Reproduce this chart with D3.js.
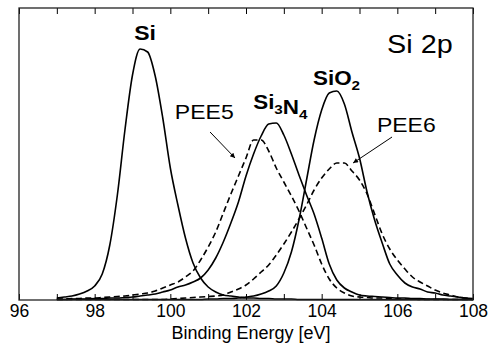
<!DOCTYPE html>
<html>
<head>
<meta charset="utf-8">
<script src="https://cdn.jsdelivr.net/npm/d3@7"></script>
<style>
  html, body { margin: 0; padding: 0; background: #fff; }
  svg { display: block; font-family: "Liberation Sans", Arial, Helvetica, sans-serif; }
</style>
</head>
<body>
<div id="chart"></div>
<script>
(function() {
  'use strict';

  // binding energy grid (eV)
  var energy = [97.0, 97.2, 97.4, 97.6, 97.8, 98.0, 98.2, 98.4, 98.6, 98.8,
                99.0, 99.2, 99.4, 99.6, 99.8, 100.0, 100.2, 100.4, 100.6, 100.8,
                101.0, 101.2, 101.4, 101.6, 101.8, 102.0, 102.2, 102.4, 102.6, 102.8,
                103.0, 103.2, 103.4, 103.6, 103.8, 104.0, 104.2, 104.4, 104.6, 104.8,
                105.0, 105.2, 105.4, 105.6, 105.8, 106.0, 106.2, 106.4, 106.6, 106.8,
                107.0, 107.2, 107.4, 107.6, 107.8, 108.0];

  // intensities (arb. units)
  var si = [2, 3, 4, 6, 9, 14, 26, 55, 105, 170,
            225, 251, 248, 224, 182, 132, 95, 62, 37, 22,
            13, 8, 5, 4, 3, 2, 2, 1.5, 1.5, 1,
            1, 1, 0.5, 0.5, 0.5, 0.5, 0.5, 0.5, 0.5, 0.5,
            0.5, 0.5, 0.5, 0.5, 0.5, 0.5, 0.5, 0.5, 0.5, 0.5,
            0.5, 0.5, 0.5, 0.5, 0.5, 0.5];

  var si3n4 = [0.5, 0.5, 1, 1, 1, 1.5, 1.5, 2, 2, 2.5,
               3, 4, 5, 6, 8, 10, 13, 15, 18, 22,
               30, 42, 58, 77, 98, 124, 146, 164, 176, 177,
               165, 146, 125, 105, 86, 62, 36, 20, 12, 8,
               5, 4, 3.5, 3, 2.5, 2, 2, 1.5, 1.5, 1,
               1, 1, 0.5, 0.5, 0.5, 0.5];

  var pee5 = [1, 1, 1.5, 1.5, 2, 2, 2.5, 3, 3.5, 4,
              5, 6, 7, 9, 12, 15, 18, 23, 29, 40,
              53, 68, 87, 106, 124, 142, 160, 160, 149, 132,
              118, 104, 89, 72, 55, 36, 21, 12, 7, 4,
              3, 2.5, 2, 2, 1.5, 1, 1, 1, 0.5, 0.5,
              0.5, 0.5, 0.5, 0.5, 0.5, 0.5];

  var sio2 = [0.5, 0.5, 0.5, 0.5, 0.5, 0.5, 0.5, 0.5, 0.5, 0.5,
              0.5, 0.5, 0.5, 0.5, 0.5, 0.5, 0.5, 0.5, 0.5, 0.5,
              1, 1, 1.5, 1.5, 2, 3, 4, 6, 9, 14,
              27, 48, 80, 120, 160, 190, 207, 209, 196, 168,
              142, 108, 80, 57, 36, 25, 17, 13, 11, 8,
              7, 5, 4, 3, 2, 1.5];

  var pee6 = [0.5, 0.5, 0.5, 0.5, 0.5, 0.5, 0.5, 0.5, 0.5, 0.5,
              0.5, 0.5, 0.5, 0.5, 0.5, 1, 1.5, 2, 2.5, 3,
              3.5, 4, 5, 8, 11, 15, 21, 28, 35, 45,
              56, 68, 81, 95, 110, 122, 131, 137, 137, 129,
              120, 106, 86, 66, 51, 40, 31, 23, 18, 14,
              10, 7, 5, 3, 2, 1];

  var xTicks = [96, 97, 98, 99, 100, 101, 102, 103, 104, 105, 106, 107, 108];
  var xTickLabels = [96, 98, 100, 102, 104, 106, 108];

  var options = {
    width: 491,
    height: 346,
    margin: { left: 19, right: 18, top: 8, bottom: 46 },
    xDomain: [96, 108],
    yDomain: [0, 292]
  };

  var w = options.width, h = options.height, m = options.margin;

  var svg = d3.select('#chart')
    .append('svg')
    .attr('width', w)
    .attr('height', h);

  var x = d3.scaleLinear().domain(options.xDomain).range([m.left, w - m.right]);
  var y = d3.scaleLinear().domain(options.yDomain).range([h - m.bottom, m.top]);

  var series = [
    { name: 'Si', values: si, dash: null },
    { name: 'Si3N4', values: si3n4, dash: null },
    { name: 'PEE5', values: pee5, dash: '6,3.5' },
    { name: 'SiO2', values: sio2, dash: null },
    { name: 'PEE6', values: pee6, dash: '6,3.5' }
  ];

  var line = d3.line()
    .x(function(d) { return x(d[0]); })
    .y(function(d) { return y(d[1]); })
    .curve(d3.curveMonotoneX);

  svg.append('g')
    .selectAll('path')
    .data(series)
    .enter().append('path')
    .attr('d', function(s) { return line(energy.map(function(e, i) { return [e, s.values[i]]; })); })
    .attr('fill', 'none')
    .attr('stroke', '#000')
    .attr('stroke-width', 1.6)
    .attr('stroke-dasharray', function(s) { return s.dash; });

  // axes: inward ticks top and bottom
  var bottom = d3.axisBottom(x)
    .tickValues(xTicks)
    .tickSizeInner(-6)
    .tickSizeOuter(0)
    .tickPadding(5)
    .tickFormat(function(d) { return xTickLabels.indexOf(d) >= 0 ? d : ''; });

  var gx = svg.append('g')
    .attr('transform', 'translate(0,' + (h - m.bottom) + ')')
    .call(bottom);
  gx.select('.domain').remove();
  gx.selectAll('line').attr('stroke', '#000').attr('stroke-width', 1);
  gx.selectAll('text')
    .attr('fill', '#000')
    .style('font-size', '17.5px')
    .style('font-family', '"Liberation Sans", Arial, sans-serif');

  var gt = svg.append('g')
    .attr('transform', 'translate(0,' + m.top + ')')
    .call(d3.axisTop(x).tickValues(xTicks).tickSizeInner(-6).tickSizeOuter(0).tickFormat(''));
  gt.select('.domain').remove();
  gt.selectAll('line').attr('stroke', '#000').attr('stroke-width', 1);

  // frame
  svg.append('rect')
    .attr('x', x(options.xDomain[0]))
    .attr('y', y(options.yDomain[1]))
    .attr('width', x(options.xDomain[1]) - x(options.xDomain[0]))
    .attr('height', y(options.yDomain[0]) - y(options.yDomain[1]))
    .attr('fill', 'none')
    .attr('stroke', '#222')
    .attr('stroke-width', 1.3);

  // axis title
  svg.append('text')
    .attr('x', 251)
    .attr('y', 339)
    .attr('text-anchor', 'middle')
    .style('font-size', '18px')
    .text('Binding Energy [eV]');

  // labels, placed in data units
  function label(e, v, parts, size, weight, anchor) {
    var t = svg.append('text')
      .attr('transform', 'translate(' + x(e) + ',' + y(v) + ') scale(1.15,1)')
      .attr('text-anchor', anchor || 'start')
      .style('font-size', size + 'px')
      .style('font-weight', weight || 'normal');
    parts.forEach(function(p) {
      if (p.sub) {
        t.append('tspan').attr('dy', 5).style('font-size', (size * 0.68) + 'px').text(p.sub);
        t.append('tspan').attr('dy', -5).text('');
      } else {
        t.append('tspan').text(p.text);
      }
    });
    return t;
  }

  label(99.33, 260, [{ text: 'Si' }], 20, 'bold', 'middle');
  label(102.19, 191, [{ text: 'Si' }, { sub: '3' }, { text: 'N' }, { sub: '4' }], 19.5, 'bold');
  label(103.77, 215, [{ text: 'SiO' }, { sub: '2' }], 19.5, 'bold');
  label(105.73, 247, [{ text: 'Si 2p' }], 25, 'normal');
  label(100.12, 181, [{ text: 'PEE5' }], 20, 'normal');
  label(105.46, 168, [{ text: 'PEE6' }], 20, 'normal');

  // arrows
  var defs = svg.append('defs');
  defs.append('marker')
    .attr('id', 'arrow')
    .attr('viewBox', '0 0 10 10')
    .attr('refX', 10)
    .attr('refY', 5)
    .attr('markerWidth', 7)
    .attr('markerHeight', 5)
    .attr('markerUnits', 'userSpaceOnUse')
    .attr('orient', 'auto')
    .append('path')
    .attr('d', 'M0,0L10,5L0,10Z')
    .attr('fill', '#000');

  var arrows = [
    { from: [101.05, 168], to: [101.71, 142] },
    { from: [105.86, 163], to: [104.83, 137] }
  ];

  svg.append('g')
    .selectAll('line')
    .data(arrows)
    .enter().append('line')
    .attr('x1', function(d) { return x(d.from[0]); })
    .attr('y1', function(d) { return y(d.from[1]); })
    .attr('x2', function(d) { return x(d.to[0]); })
    .attr('y2', function(d) { return y(d.to[1]); })
    .attr('stroke', '#000')
    .attr('stroke-width', 1)
    .attr('marker-end', 'url(#arrow)');
})();
</script>
</body>
</html>
